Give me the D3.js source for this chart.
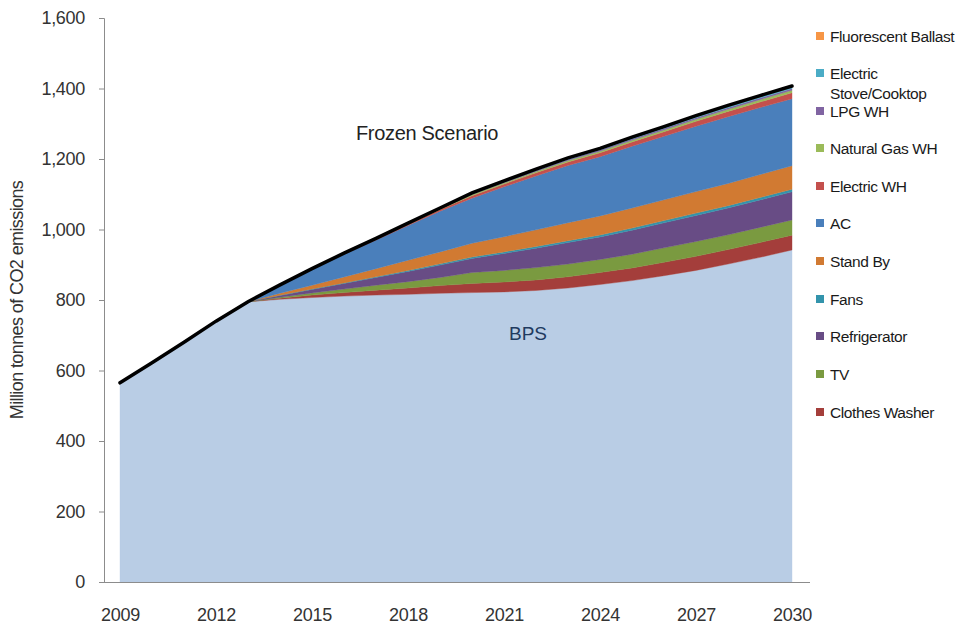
<!DOCTYPE html>
<html><head><meta charset="utf-8">
<script src="https://cdn.jsdelivr.net/npm/d3@7"></script>
<style>
body{margin:0;background:#fff;}
svg{display:block;font-family:"Liberation Sans",Arial,sans-serif;}
</style></head>
<body><svg id="chart" width="963" height="629"></svg>
<script>
const years = [2009,2010,2011,2012,2013,2014,2015,2016,2017,2018,2019,2020,2021,2022,2023,2024,2025,2026,2027,2028,2029,2030];
const tickYears = [2009,2012,2015,2018,2021,2024,2027,2030];
const yTicks = [0,200,400,600,800,1000,1200,1400,1600];

const bps          = [565,622,680,740,795,802,807,811,814,816,819,821,823,827,834,844,855,869,884,902,921,942];
const clothesWasher= [0,0,0,0,0,3,7,10,14,18,22,26,28,30,32,34,36,38,40,41,42,42];
const tv           = [0,0,0,0,0,3,6,10,14,18,23,31,33,35,36,37,39,41,42,42,43,43];
const refrigerator = [0,0,0,0,0,5,10,16,22,29,35,40,48,55,61,64,68,71,74,76,78,80];
const fans         = [0,0,0,0,0,0.5,1,1.5,2,3,3.5,4,4.5,5,5.3,5.6,6,6.3,6.5,6.7,6.9,7];
const standBy      = [0,0,0,0,0,6,11,17,23,29,34,39,43,47,51,54,57,59,61,63,65,67];
const ac           = [0,0,0,0,0,22.5,45,64.5,81,98,115.5,128,141.5,153,162.4,168,175.4,179.9,185.5,189.3,189.9,190];
const electricWH   = [0,0,0,0,0,0.5,1,1.5,2.5,3.5,4.5,7,8,9,10,11,12,13,14,15,16,17];
const naturalGasWH = [0,0,0,0,0,0.2,0.4,0.6,1,1.3,1.7,3,3.3,3.7,4,4.4,4.8,5.2,5.6,6,6.5,7];
const lpgWH        = [0,0,0,0,0,0.1,0.2,0.4,0.6,1,1.3,2,2.3,2.6,3,3.3,3.6,4,4.3,4.6,4.8,5];
const stove        = [0,0,0,0,0,0.1,0.2,0.3,0.5,0.7,0.8,1.5,1.8,2,2.3,2.5,2.8,3,3.3,3.5,3.8,4];
const ballast      = [0,0,0,0,0,0.1,0.2,0.2,0.4,0.5,0.7,1.5,1.6,1.8,2,2.2,2.4,2.6,2.8,3,3.1,3];
const frozen       = [565,622,680,740,795,843,889,933,975,1018,1061,1104,1138,1171,1203,1230,1262,1292,1323,1352,1380,1407];

const seriesNames = ["BPS","Clothes Washer","TV","Refrigerator","Fans","Stand By","AC","Electric WH","Natural Gas WH","LPG WH","Electric Stove/Cooktop","Fluorescent Ballast"];
const seriesData = [bps,clothesWasher,tv,refrigerator,fans,standBy,ac,electricWH,naturalGasWH,lpgWH,stove,ballast];
const colors = ["#B9CDE5","#A43E3B","#7A9A40","#684C85","#3394AC","#D17A32","#4A7FBB","#C4504D","#9BBB59","#8064A2","#4BACC6","#F79646"];

const table = years.map((y,i)=>{const o={year:y}; seriesNames.forEach((n,k)=>o[n]=seriesData[k][i]); return o;});

const svg = d3.select("#chart");
const x = d3.scalePoint().domain(years).range([104,808]).padding(0.5);
const y = d3.scaleLinear().domain([0,1600]).range([582,18]);

const stack = d3.stack().keys(seriesNames);
const layers = stack(table);
const area = d3.area().x(d=>x(d.data.year)).y0(d=>y(d[0])).y1(d=>y(d[1]));

svg.append("g").selectAll("path").data(layers).join("path")
  .attr("d",area).attr("fill",(d,i)=>colors[i]).attr("stroke",(d,i)=>colors[i]).attr("stroke-width",0.4);

// frozen scenario line
svg.append("path").datum(years.map((yr,i)=>({year:yr,v:frozen[i]})))
  .attr("d",d3.line().x(d=>x(d.year)).y(d=>y(d.v)))
  .attr("fill","none").attr("stroke","#000").attr("stroke-width",3.5).attr("stroke-linecap","round");

const font = "'Liberation Sans',Arial,sans-serif";
// y axis
const yAxis = svg.append("g").attr("transform","translate(104,0)")
  .call(d3.axisLeft(y).tickValues(yTicks).tickSize(5).tickPadding(14).tickFormat(d3.format(",")));
yAxis.select(".domain").attr("stroke","#8c8c8c");
yAxis.selectAll(".tick line").attr("stroke","#8c8c8c");
yAxis.selectAll("text").attr("font-size",18).attr("fill","#333").attr("font-family",font).attr("letter-spacing","-0.3");

// x axis
const xAxis = svg.append("g").attr("transform","translate(0,582)")
  .call(d3.axisBottom(x).tickValues(tickYears).tickSize(0).tickPadding(26));
xAxis.select(".domain").attr("stroke","#8c8c8c").attr("d","M104,0.5H810");
xAxis.selectAll("text").attr("font-size",18).attr("fill","#333").attr("font-family",font).attr("letter-spacing","-0.3");

// y axis title
svg.append("text").attr("transform","translate(23,300) rotate(-90)")
  .attr("text-anchor","middle").attr("font-size",18).attr("fill","#333").attr("letter-spacing","-0.6")
  .text("Million tonnes of CO2 emissions");

// annotations
svg.append("text").attr("x",427).attr("y",140).attr("text-anchor","middle")
  .attr("font-size",20).attr("fill","#222").attr("letter-spacing","-0.3").text("Frozen Scenario");
svg.append("text").attr("x",528).attr("y",340).attr("text-anchor","middle")
  .attr("font-size",19).attr("fill","#1F3A60").text("BPS");

// legend (top to bottom)
const legendItems = [
  {lines:["Fluorescent Ballast"], k:11, y:36},
  {lines:["Electric","Stove/Cooktop"], k:10, y:73},
  {lines:["LPG WH"], k:9, y:111},
  {lines:["Natural Gas WH"], k:8, y:148},
  {lines:["Electric WH"], k:7, y:186},
  {lines:["AC"], k:6, y:223},
  {lines:["Stand By"], k:5, y:261},
  {lines:["Fans"], k:4, y:299},
  {lines:["Refrigerator"], k:3, y:336},
  {lines:["TV"], k:2, y:374},
  {lines:["Clothes Washer"], k:1, y:412}
];
const lg = svg.append("g");
legendItems.forEach(it=>{
  lg.append("rect").attr("x",816).attr("y",it.y-4).attr("width",8).attr("height",8).attr("fill",colors[it.k]);
  const t = lg.append("text").attr("x",830).attr("y",it.y+5.5).attr("font-size",15.5).attr("fill","#1a1a1a").attr("letter-spacing","-0.4");
  it.lines.forEach((l,j)=>t.append("tspan").attr("x",830).attr("dy",j===0?0:20).text(l));
});
</script>
</body></html>
